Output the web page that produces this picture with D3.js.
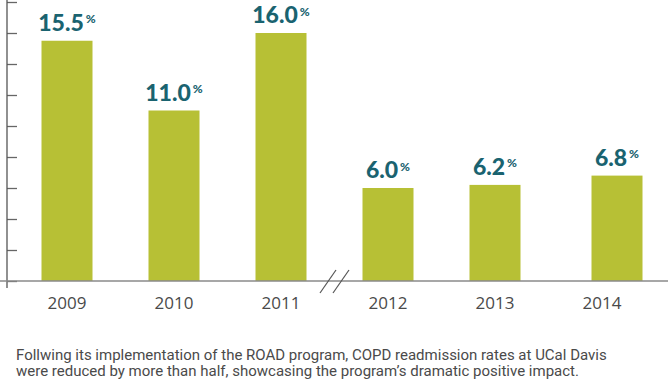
<!DOCTYPE html>
<html>
<head>
<meta charset="utf-8">
<script src="https://cdn.jsdelivr.net/npm/d3@7"></script>
<style>
  html, body { margin: 0; padding: 0; background: #fff; }
  svg { display: block; }
</style>
</head>
<body>
<svg id="chart" width="668" height="379"></svg>
<script>
const categories = ["2009", "2010", "2011", "2012", "2013", "2014"];
const values = [15.5, 11.0, 16.0, 6.0, 6.2, 6.8];
const tickValues = [0, 2, 4, 6, 8, 10, 12, 14, 16, 18];
const captionLines = [
  "Follwing its implementation of the ROAD program, COPD readmission rates at UCal Davis",
  "were reduced by more than half, showcasing the program\u2019s dramatic positive impact."
];

const svg = d3.select("#chart");
const W = 668;
const barColor = "#b7c035";
const labelColor = "#1a6370";
const textColor = "#4a4a4a";
const barW = 51;

const x = d3.scalePoint().domain(categories).range([67, 602]);
const y = d3.scaleLinear().domain([0, 18]).range([281, 2]);
const barShift = d => (d === "2014" ? 15 : 0);

const data = categories.map((c, i) => ({ cat: c, value: values[i] }));

// bars
svg.append("g").selectAll("rect").data(data).join("rect")
  .attr("x", d => x(d.cat) + barShift(d.cat) - barW / 2)
  .attr("y", d => y(d.value))
  .attr("width", barW)
  .attr("height", d => y(0) - y(d.value))
  .attr("fill", barColor);

// y axis ticks
const yAxis = svg.append("g")
  .attr("transform", "translate(7,0)")
  .call(d3.axisRight(y).tickValues(tickValues).tickSize(10).tickSizeOuter(0).tickFormat(""));
yAxis.select(".domain").remove();
yAxis.selectAll(".tick line").attr("stroke", "#666").attr("stroke-width", 1.3);

// vertical axis line
svg.append("line")
  .attr("x1", 7).attr("x2", 7)
  .attr("y1", 0).attr("y2", y(0) + 7)
  .attr("stroke", "#555").attr("stroke-width", 1.3);

// baseline
svg.append("line")
  .attr("x1", 0).attr("x2", W)
  .attr("y1", y(0)).attr("y2", y(0))
  .attr("stroke", "#8a8a8a").attr("stroke-width", 1.6);

// axis break marks
const breakX = (x("2011") + x("2012")) / 2;
[-6.5, 6.5].forEach(off => {
  svg.append("line")
    .attr("x1", breakX + off - 8).attr("y1", y(0) + 12)
    .attr("x2", breakX + off + 8).attr("y2", y(0) - 11)
    .attr("stroke", "#555").attr("stroke-width", 1.2);
});

// year labels
svg.append("g").selectAll("text").data(data).join("text")
  .attr("x", d => x(d.cat))
  .attr("y", y(0) + 28)
  .attr("text-anchor", "middle")
  .attr("font-family", "'Open Sans', sans-serif")
  .attr("font-size", 17)
  .attr("fill", textColor)
  .text(d => d.cat);

// value labels
const vl = svg.append("g").selectAll("text").data(data).join("text")
  .attr("x", d => x(d.cat) + barShift(d.cat))
  .attr("y", d => y(d.value) - 10)
  .attr("text-anchor", "middle")
  .attr("font-family", "Lato, sans-serif")
  .attr("font-weight", 900)
  .attr("font-size", 23)
  .attr("fill", labelColor);
vl.append("tspan").text(d => d3.format(".1f")(d.value));
vl.append("tspan")
  .attr("dx", 2).attr("dy", -7.5)
  .attr("font-size", 12)
  .text("%");

// caption (two lines, sized so the first line spans the reference width)
const capG = svg.append("g")
  .attr("font-family", "Roboto, sans-serif")
  .attr("fill", textColor);
const capTexts = capG.selectAll("text").data(captionLines).join("text")
  .attr("x", 16)
  .attr("y", (d, i) => 359.5 + i * 16.5)
  .attr("font-size", 14)
  .text(d => d);
const w0 = capTexts.nodes()[0].getComputedTextLength();
const capSize = Math.min(15, 14 * 621 / w0);
capTexts.attr("font-size", capSize);
</script>
</body>
</html>
